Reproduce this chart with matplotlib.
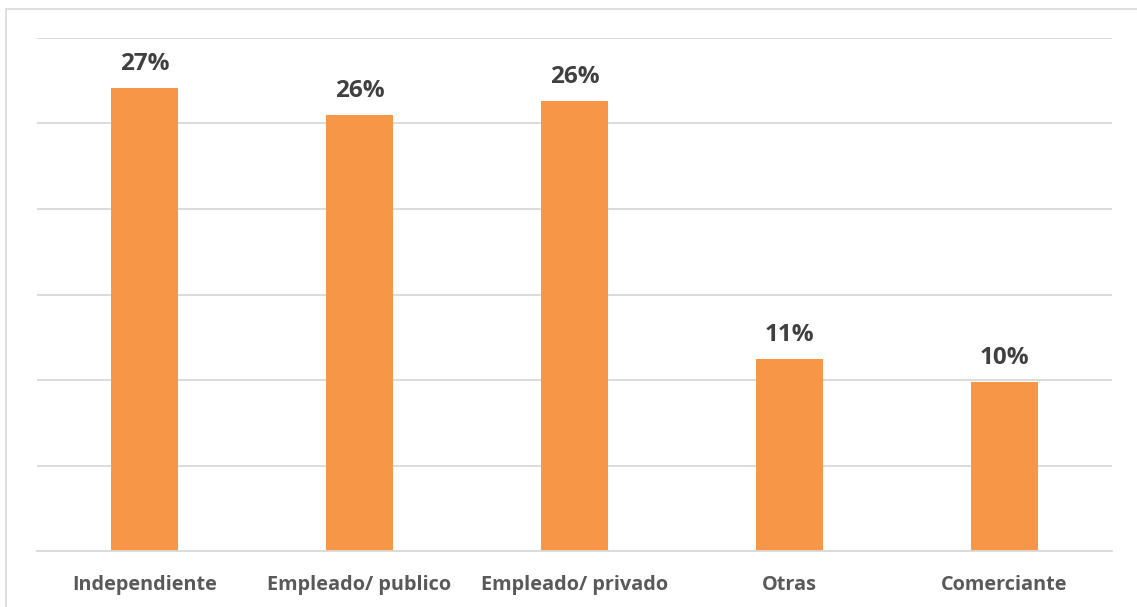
import matplotlib
matplotlib.use("Agg")
import matplotlib.pyplot as plt
from matplotlib.patches import Rectangle

# Share of respondents by occupation (%)
categories = ["Independiente", "Empleado/ publico", "Empleado/ privado", "Otras", "Comerciante"]
shares = [27.1, 25.5, 26.3, 11.2, 9.9]

BAR_COLOR = "#F79646"
TEXT_COLOR = "#404040"
GRID_COLOR = "#D9D9D9"

plt.rcParams["font.family"] = ["Open Sans", "DejaVu Sans"]

fig = plt.figure(figsize=(11.37, 6.07), dpi=100)
ax = fig.add_axes([37 / 1137, 1 - 551 / 607, 1075 / 1137, 513 / 607])

x = range(len(categories))
bars = ax.bar(x, shares, width=0.31, color=BAR_COLOR, zorder=2)

for bar, v in zip(bars, shares):
    ax.annotate(f"{v:.0f}%", (bar.get_x() + bar.get_width() / 2, v),
                xytext=(0, 13), textcoords="offset points",
                ha="center", va="baseline", fontsize=17.5, fontweight="bold",
                color=TEXT_COLOR)

ax.set_xlim(-0.5, len(categories) - 0.5)
ax.set_ylim(0, 30)
ax.set_yticks(range(0, 31, 5))
ax.yaxis.grid(True, color=GRID_COLOR, linewidth=1.3, zorder=0)
ax.set_yticklabels([])
ax.tick_params(axis="y", length=0)
ax.tick_params(axis="x", length=0, pad=17)
ax.set_xticks(list(x))
ax.set_xticklabels(categories, fontsize=14.3, fontweight="bold", color="#595959")
for side in ("top", "right", "left"):
    ax.spines[side].set_visible(False)
ax.spines["bottom"].set_color(GRID_COLOR)
ax.spines["bottom"].set_linewidth(1.3)

# light frame around the chart area
fig.patches.append(Rectangle((6 / 1137, -0.1), 1.2, 1 - 9 / 607 + 0.1,
                             transform=fig.transFigure, fill=False,
                             edgecolor="#D9D9D9", linewidth=1.2))

fig.savefig("out.png", dpi=100)
